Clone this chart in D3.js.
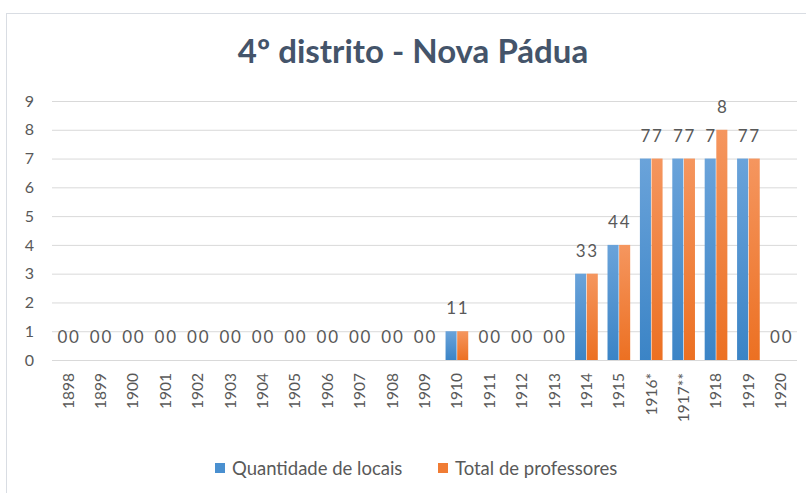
<!DOCTYPE html>
<html>
<head>
<meta charset="utf-8">
<script src="https://cdn.jsdelivr.net/npm/d3@7"></script>
<style>
  body { margin: 0; background: #fff; }
  svg { display: block; font-family: Lato, "Open Sans", sans-serif; }
</style>
</head>
<body>
<svg id="chart" width="806" height="493"></svg>
<script>
// chart data
const years = ["1898", "1899", "1900", "1901", "1902", "1903", "1904", "1905", "1906", "1907", "1908", "1909",
  "1910", "1911", "1912", "1913", "1914", "1915", "1916*", "1917**", "1918", "1919", "1920"];
const seriesNames = ["Quantidade de locais", "Total de professores"];
const locais = [0, 0, 0, 0, 0, 0, 0, 0, 0, 0, 0, 0, 1, 0, 0, 0, 3, 4, 7, 7, 7, 7, 0];
const professores = [0, 0, 0, 0, 0, 0, 0, 0, 0, 0, 0, 0, 1, 0, 0, 0, 3, 4, 7, 7, 8, 7, 0];
const yTicks = [0, 1, 2, 3, 4, 5, 6, 7, 8, 9];

const width = 806, height = 493;
const textColor = "#595959";
const gridColor = "#d9d9d9";
const plot = { left: 52, right: 797, top: 101, bottom: 360 };

let svg = d3.select("#chart");

// gradients for bars
let defs = svg.append("defs");
const grads = [
    { id: "gBlue", top: "#6aa3da", bottom: "#3b84c6" },
    { id: "gOrange", top: "#f5965f", bottom: "#ec7022" }
];
grads.forEach(function(g) {
    let lg = defs.append("linearGradient")
        .attr("id", g.id)
        .attr("x1", 0).attr("y1", 0).attr("x2", 0).attr("y2", 1);
    lg.append("stop").attr("offset", "0%").attr("stop-color", g.top);
    lg.append("stop").attr("offset", "100%").attr("stop-color", g.bottom);
});

// chart frame
svg.append("rect")
    .attr("x", 6.5).attr("y", 13.5)
    .attr("width", width + 10).attr("height", height + 10)
    .attr("fill", "none")
    .attr("stroke", "#d9dde3");

// title
svg.append("text")
    .attr("x", 413)
    .attr("y", 63)
    .attr("text-anchor", "middle")
    .style("font-size", "33px")
    .style("font-weight", "bold")
    .style("fill", "#44546a")
    .text("4º distrito - Nova Pádua");

let x0 = d3.scaleBand()
    .domain(years)
    .range([plot.left, plot.right]);

let groupW = x0.step() * 0.7;
let x1 = d3.scaleBand()
    .domain(seriesNames)
    .range([0, groupW])
    .paddingInner(0.05);

let yScale = d3.scaleLinear()
    .domain([0, 9])
    .range([plot.bottom, plot.top]);

// gridlines
svg.append("g")
    .selectAll("line")
    .data(yTicks)
    .join("line")
    .attr("x1", plot.left).attr("x2", plot.right)
    .attr("y1", d => yScale(d) + 0.5).attr("y2", d => yScale(d) + 0.5)
    .attr("stroke", gridColor)
    .attr("stroke-width", 1);

// y axis labels
let yAxis = svg.append("g")
    .attr("transform", "translate(" + 34 + ",0)")
    .call(d3.axisLeft(yScale).tickValues(yTicks).tickSize(0).tickPadding(0));
yAxis.select("path").remove();
yAxis.selectAll("text")
    .style("font-family", "Lato, sans-serif")
    .style("font-size", "16px")
    .style("fill", textColor);

// x axis labels
let xAxis = svg.append("g")
    .attr("transform", "translate(0," + plot.bottom + ")")
    .call(d3.axisBottom(x0).tickSize(0));
xAxis.select("path").remove();
xAxis.selectAll("text")
    .attr("transform", "rotate(-90)")
    .attr("x", -13)
    .attr("y", 0)
    .attr("dy", "0.35em")
    .style("text-anchor", "end")
    .style("font-family", "Lato, sans-serif")
    .style("font-size", "15.5px")
    .style("fill", textColor);

// bars + value labels
const seriesData = [
    { name: seriesNames[0], values: locais, fill: "url(#gBlue)" },
    { name: seriesNames[1], values: professores, fill: "url(#gOrange)" }
];
let offset = (x0.step() - groupW) / 2;

seriesData.forEach(function(s) {
    let g = svg.append("g");
    g.selectAll("rect")
        .data(years)
        .join("rect")
        .attr("x", (d, i) => x0(d) + offset + x1(s.name))
        .attr("y", (d, i) => yScale(s.values[i]))
        .attr("width", x1.bandwidth())
        .attr("height", (d, i) => yScale(0) - yScale(s.values[i]))
        .attr("fill", s.fill);
    g.selectAll("text")
        .data(years)
        .join("text")
        .attr("x", (d, i) => x0(d) + offset + x1(s.name) + x1.bandwidth() / 2)
        .attr("y", (d, i) => yScale(s.values[i]) - 17)
        .attr("text-anchor", "middle")
        .style("font-size", "17px")
        .style("fill", textColor)
        .text((d, i) => s.values[i]);
});

// legend
const legendItems = [
    { name: seriesNames[0], color: "#4a90d0", x: 215 },
    { name: seriesNames[1], color: "#f07c34", x: 438 }
];
let legend = svg.append("g");
legendItems.forEach(function(d) {
    legend.append("rect")
        .attr("x", d.x).attr("y", 463)
        .attr("width", 10).attr("height", 10)
        .attr("fill", d.color);
    legend.append("text")
        .attr("x", d.x + 17).attr("y", 475)
        .style("font-size", "18.5px")
        .style("fill", textColor)
        .text(d.name);
});
</script>
</body>
</html>
